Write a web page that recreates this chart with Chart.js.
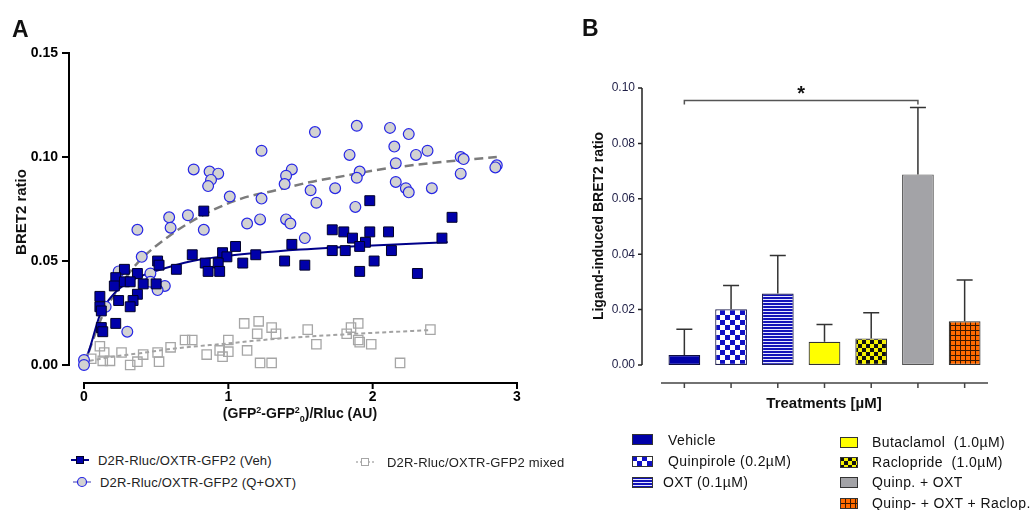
<!DOCTYPE html>
<html>
<head>
<meta charset="utf-8">
<script src="https://cdn.jsdelivr.net/npm/chart.js@4.4.1/dist/chart.umd.min.js"></script>
<style>
  body { margin: 0; background: #fff; width: 1033px; height: 510px; position: relative; overflow: hidden;
         font-family: "Liberation Sans", Arial, sans-serif; color: #111; }
  canvas.chart { position: absolute; top: 0; }
  .t { position: absolute; white-space: pre; line-height: 1; }
  .c { transform: translate(-50%, -50%); }
  .rot { transform: translate(-50%, -50%) rotate(-90deg); }
  .panel { font-weight: bold; font-size: 23px; }
  .legA { font-size: 13px; color: #222; letter-spacing: 0.2px; }
  .legB { font-size: 14px; color: #111; letter-spacing: 0.4px; }
  .mk { position: absolute; }
</style>
</head>
<body>
<canvas id="chartA" class="chart" width="560" height="440" style="left:0"></canvas>
<canvas id="chartB" class="chart" width="463" height="440" style="left:570px"></canvas>

<div class="t panel" style="left:12px;top:18px">A</div>
<div class="t panel" style="left:582px;top:17px">B</div>

<div class="t rot" style="left:20px;top:212px;font-weight:bold;font-size:15px">BRET2 ratio</div>
<div class="t c" style="left:300px;top:415px;font-weight:bold;font-size:14px">(GFP<sup style="font-size:9px">2</sup>-GFP<sup style="font-size:9px">2</sup><sub style="font-size:9px">0</sub>)/Rluc (AU)</div>

<div class="t rot" style="left:598px;top:226px;font-weight:bold;font-size:14px">Ligand-induced BRET2 ratio</div>
<div class="t c" style="left:824px;top:402px;font-weight:bold;font-size:15px">Treatments [µM]</div>

<!-- legend A -->
<canvas class="mk" id="mkVeh" width="20" height="14" style="left:70px;top:453px"></canvas>
<div class="t legA" style="left:98px;top:454px">D2R-Rluc/OXTR-GFP2 (Veh)</div>
<canvas class="mk" id="mkQ" width="20" height="14" style="left:72px;top:475px"></canvas>
<div class="t legA" style="left:100px;top:476px">D2R-Rluc/OXTR-GFP2 (Q+OXT)</div>
<canvas class="mk" id="mkMix" width="20" height="14" style="left:355px;top:455px"></canvas>
<div class="t legA" style="left:387px;top:456px">D2R-Rluc/OXTR-GFP2 mixed</div>

<!-- legend B -->
<canvas class="mk" id="sw0" width="21" height="11" style="left:632px;top:434px"></canvas>
<div class="t legB" style="left:668px;top:433px">Vehicle</div>
<canvas class="mk" id="sw1" width="21" height="11" style="left:632px;top:456px"></canvas>
<div class="t legB" style="left:668px;top:454px">Quinpirole (0.2µM)</div>
<canvas class="mk" id="sw2" width="21" height="11" style="left:632px;top:477px"></canvas>
<div class="t legB" style="left:663px;top:475px">OXT (0.1µM)</div>
<canvas class="mk" id="sw3" width="18" height="11" style="left:840px;top:437px"></canvas>
<div class="t legB" style="left:872px;top:435px">Butaclamol  (1.0µM)</div>
<canvas class="mk" id="sw4" width="18" height="11" style="left:840px;top:457px"></canvas>
<div class="t legB" style="left:872px;top:455px">Raclopride  (1.0µM)</div>
<canvas class="mk" id="sw5" width="18" height="11" style="left:840px;top:477px"></canvas>
<div class="t legB" style="left:872px;top:475px">Quinp. + OXT</div>
<canvas class="mk" id="sw6" width="18" height="11" style="left:840px;top:498px"></canvas>
<div class="t legB" style="left:872px;top:496px">Quinp- + OXT + Raclop.</div>

<script>
// ---- panel A: saturation data ----
const vehX = [0.83, 1.98, 2.55, 1.72, 1.80, 2.11, 1.98, 1.86, 2.48, 1.95, 1.91, 1.72, 1.81, 2.13, 1.05, 1.44,
  0.75, 0.96, 0.99, 1.19, 1.39, 1.53, 1.10, 2.01, 1.91, 2.31, 0.84, 0.86, 0.93, 0.94, 0.64, 0.51, 0.52,
  0.28, 0.37, 0.22, 0.28, 0.32, 0.41, 0.21, 0.50, 0.37, 0.34, 0.24, 0.32, 0.11, 0.11, 0.12, 0.22, 0.12, 0.13];
const vehY = [0.074, 0.079, 0.071, 0.065, 0.064, 0.064, 0.064, 0.061, 0.061, 0.059, 0.057, 0.055, 0.055, 0.055, 0.057, 0.058,
  0.053, 0.054, 0.052, 0.053, 0.050, 0.048, 0.049, 0.050, 0.045, 0.044, 0.049, 0.045, 0.049, 0.045, 0.046, 0.050, 0.048,
  0.046, 0.044, 0.042, 0.040, 0.040, 0.039, 0.038, 0.039, 0.034, 0.031, 0.031, 0.028, 0.033, 0.028, 0.026, 0.020, 0.018, 0.016];

const qoxtX = [1.89, 2.12, 1.60, 2.25, 1.23, 2.15, 2.38, 2.30, 1.84, 2.61, 2.63, 2.16, 2.86, 2.85, 1.91, 1.89, 2.61,
  0.76, 0.87, 0.93, 0.88, 0.86, 1.44, 1.40, 1.39, 2.16, 2.23, 2.25, 2.41, 1.74, 1.57, 1.01, 1.23, 1.61, 1.88,
  0.59, 0.72, 1.22, 1.40, 1.43, 1.13, 0.83, 0.60, 0.37, 1.53, 0.40, 0.24, 0.46, 0.46, 0.56, 0.51, 0.15, 0.30, 0.0, 0.0];
const qoxtY = [0.115, 0.114, 0.112, 0.111, 0.103, 0.105, 0.103, 0.101, 0.101, 0.100, 0.099, 0.097, 0.096, 0.095, 0.093, 0.090, 0.092,
  0.094, 0.093, 0.092, 0.089, 0.086, 0.094, 0.091, 0.087, 0.088, 0.085, 0.083, 0.085, 0.085, 0.084, 0.081, 0.080, 0.078, 0.076,
  0.071, 0.072, 0.070, 0.070, 0.068, 0.068, 0.065, 0.066, 0.065, 0.061, 0.052, 0.045, 0.044, 0.040, 0.038, 0.036, 0.028, 0.016, 0.0024, 0.0];

const mixX = [1.11, 1.21, 1.30, 1.20, 1.33, 1.55, 1.90, 1.85, 1.82, 2.40, 1.90, 1.91, 1.99, 1.61, 1.00, 0.70, 0.75,
  0.60, 1.13, 0.94, 1.00, 0.85, 0.96, 0.51, 0.41, 0.26, 0.11, 0.14, 0.05, 0.13, 0.18, 0.37, 0.32, 0.52, 1.22, 1.30, 2.19];
const mixY = [0.020, 0.021, 0.018, 0.015, 0.015, 0.017, 0.020, 0.018, 0.015, 0.017, 0.012, 0.011, 0.010, 0.010, 0.012, 0.012, 0.012,
  0.0085, 0.007, 0.007, 0.0064, 0.005, 0.004, 0.006, 0.005, 0.006, 0.009, 0.006, 0.003, 0.002, 0.002, 0.0016, 0.0, 0.0016, 0.001, 0.001, 0.001];

// fitted curves
const vehFitX = [0, 0.04, 0.11, 0.18, 0.25, 0.37, 0.49, 0.75, 1.0, 1.5, 2.0, 2.52];
const vehFitY = [0, 0.008, 0.024, 0.032, 0.037, 0.042, 0.045, 0.050, 0.0525, 0.0555, 0.0575, 0.059];
const qoxtFitX = [0, 0.13, 0.25, 0.37, 0.61, 0.85, 1.09, 1.33, 1.57, 1.81, 2.05, 2.4, 2.86];
const qoxtFitY = [0, 0.024, 0.038, 0.049, 0.063, 0.073, 0.080, 0.084, 0.088, 0.091, 0.094, 0.097, 0.100];
const mixFitX = [0.04, 0.2, 0.37, 0.61, 1.0, 1.33, 1.8, 2.4];
const mixFitY = [0.002, 0.004, 0.0055, 0.0078, 0.0104, 0.0126, 0.0147, 0.0168];

const xTicksA = [0, 1, 2, 3];
const yTicksA = [0, 0.05, 0.10, 0.15];

// ---- panel B: ligand-induced BRET ----
const treatments = ['Vehicle', 'Quinpirole (0.2µM)', 'OXT (0.1µM)', 'Butaclamol (1.0µM)',
  'Raclopride (1.0µM)', 'Quinp. + OXT', 'Quinp- + OXT + Raclop.'];
const bretMean = [0.0036, 0.0201, 0.0258, 0.0084, 0.0096, 0.0688, 0.0158];
const bretSem = [0.0093, 0.0086, 0.0137, 0.0062, 0.0093, 0.0242, 0.0149];
const yTicksB = [0, 0.02, 0.04, 0.06, 0.08, 0.10];
const sigPair = [0, 5];     // Vehicle vs Quinp. + OXT
const sigLevel = 0.0955;

const toXY = (xs, ys) => xs.map((x, i) => ({ x, y: ys[i] }));

// patterns for the bar fills
function makePattern(kind) {
  const c = document.createElement('canvas');
  let g;
  if (kind === 'blueCheck') {
    c.width = c.height = 10; g = c.getContext('2d');
    g.fillStyle = '#fff'; g.fillRect(0, 0, 10, 10);
    g.fillStyle = '#1010c4'; g.fillRect(0, 0, 5, 5); g.fillRect(5, 5, 5, 5);
  } else if (kind === 'blueStripe') {
    c.width = 4; c.height = 3; g = c.getContext('2d');
    g.fillStyle = '#1212b8'; g.fillRect(0, 0, 4, 3);
    g.fillStyle = '#e8e8ff'; g.fillRect(0, 2, 4, 1);
  } else if (kind === 'yellowCheck') {
    c.width = c.height = 8; g = c.getContext('2d');
    g.fillStyle = '#f4f000'; g.fillRect(0, 0, 8, 8);
    g.fillStyle = '#111'; g.fillRect(0, 0, 4, 4); g.fillRect(4, 4, 4, 4);
  } else if (kind === 'orangeGrid') {
    c.width = c.height = 5; g = c.getContext('2d');
    g.fillStyle = '#ff6a00'; g.fillRect(0, 0, 5, 5);
    g.fillStyle = '#3a1800'; g.fillRect(0, 0, 5, 1); g.fillRect(0, 0, 1, 5);
  }
  return g.createPattern(c, 'repeat');
}

const barFills = ['#0000a8', makePattern('blueCheck'), makePattern('blueStripe'), '#ffff00',
  makePattern('yellowCheck'), '#a3a3a7', makePattern('orangeGrid')];
const barBorders = ['#101040', '#202050', '#202050', '#333', '#333', '#555', '#333'];

// axis lines drawn off the plot edge like in the original figure
const axesA = {
  id: 'axesA',
  beforeDatasetsDraw(chart) {
    const { ctx, scales: { x, y } } = chart;
    const ax = x.getPixelForValue(0) - 15;
    const ay = y.getPixelForValue(0) + 18;
    ctx.save();
    ctx.strokeStyle = '#000';
    ctx.lineWidth = 2;
    ctx.beginPath();
    ctx.moveTo(ax, y.getPixelForValue(yTicksA[yTicksA.length - 1]) - 1);
    ctx.lineTo(ax, y.getPixelForValue(0) + 1);
    yTicksA.forEach(v => { const p = y.getPixelForValue(v); ctx.moveTo(ax - 7, p); ctx.lineTo(ax, p); });
    ctx.moveTo(x.getPixelForValue(0) - 1, ay);
    ctx.lineTo(x.getPixelForValue(xTicksA[xTicksA.length - 1]) + 1, ay);
    xTicksA.forEach(v => { const p = x.getPixelForValue(v); ctx.moveTo(p, ay); ctx.lineTo(p, ay + 6); });
    ctx.stroke();
    ctx.restore();
  }
};

const axesB = {
  id: 'axesB',
  beforeDatasetsDraw(chart) {
    const { ctx, chartArea, scales: { x, y } } = chart;
    const ax = chartArea.left - 19;
    const ay = y.getPixelForValue(0) + 18;
    ctx.save();
    ctx.strokeStyle = '#222';
    ctx.lineWidth = 1.5;
    ctx.beginPath();
    ctx.moveTo(ax, y.getPixelForValue(yTicksB[yTicksB.length - 1]));
    ctx.lineTo(ax, y.getPixelForValue(0));
    yTicksB.forEach(v => { const p = y.getPixelForValue(v); ctx.moveTo(ax - 4, p); ctx.lineTo(ax, p); });
    ctx.stroke();
    ctx.strokeStyle = '#444';
    ctx.beginPath();
    ctx.moveTo(chartArea.left, ay); ctx.lineTo(chartArea.right, ay);
    treatments.forEach((_, i) => { const p = x.getPixelForValue(i); ctx.moveTo(p, ay); ctx.lineTo(p, ay + 5); });
    ctx.stroke();
    ctx.restore();
  },
  afterDatasetsDraw(chart) {
    const { ctx, scales: { x, y } } = chart;
    const bars = chart.getDatasetMeta(0).data;
    ctx.save();
    ctx.strokeStyle = '#333';
    ctx.lineWidth = 1.5;
    ctx.beginPath();
    bars.forEach((bar, i) => {
      const top = y.getPixelForValue(bretMean[i] + bretSem[i]);
      ctx.moveTo(bar.x, bar.y); ctx.lineTo(bar.x, top);
      ctx.moveTo(bar.x - 8, top); ctx.lineTo(bar.x + 8, top);
    });
    ctx.stroke();
    // significance bracket
    const x0 = x.getPixelForValue(sigPair[0]), x1 = x.getPixelForValue(sigPair[1]);
    const sy = Math.round(y.getPixelForValue(sigLevel)) + 0.5;
    ctx.strokeStyle = '#555';
    ctx.lineWidth = 1.5;
    ctx.beginPath();
    ctx.moveTo(x0, sy + 4); ctx.lineTo(x0, sy); ctx.lineTo(x1, sy); ctx.lineTo(x1, sy + 4);
    ctx.stroke();
    ctx.fillStyle = '#111';
    ctx.font = 'bold 20px "Liberation Sans", Arial, sans-serif';
    ctx.textAlign = 'center';
    ctx.textBaseline = 'alphabetic';
    ctx.fillText('*', (x0 + x1) / 2, sy - 1);
    ctx.restore();
  }
};

const fontA = { family: '"Liberation Sans", Arial, sans-serif', size: 14, weight: 'bold' };

new Chart(document.getElementById('chartA'), {
  type: 'scatter',
  data: {
    datasets: [
      { data: toXY(vehX, vehY), pointStyle: 'rect', pointRadius: 7, backgroundColor: '#0000aa',
        borderColor: '#000028', borderWidth: 1, clip: false },
      { data: toXY(qoxtX, qoxtY), pointStyle: 'circle', pointRadius: 5.4, backgroundColor: '#d2d2d2',
        borderColor: '#2626e6', borderWidth: 1.2, clip: false },
      { data: toXY(mixX, mixY), pointStyle: 'rect', pointRadius: 6.6, backgroundColor: 'rgba(255,255,255,0)',
        borderColor: '#a6a6a6', borderWidth: 1.3, clip: false },
      { data: toXY(vehFitX, vehFitY), showLine: true, pointRadius: 0, borderColor: '#00008a', borderWidth: 2,
        cubicInterpolationMode: 'monotone', clip: false },
      { data: toXY(qoxtFitX, qoxtFitY), showLine: true, pointRadius: 0, borderColor: '#7c7c7c', borderWidth: 2.5,
        borderDash: [9, 5], cubicInterpolationMode: 'monotone', clip: false },
      { data: toXY(mixFitX, mixFitY), showLine: true, pointRadius: 0, borderColor: '#a2a2a2', borderWidth: 2,
        borderDash: [4, 3], cubicInterpolationMode: 'monotone', clip: false }
    ]
  },
  options: {
    responsive: false,
    animation: false,
    events: [],
    layout: { padding: { top: 53, right: 43, left: 0, bottom: 0 } },
    plugins: { legend: { display: false }, tooltip: { enabled: false } },
    scales: {
      x: {
        type: 'linear', min: 0, max: 3,
        afterBuildTicks: s => { s.ticks = xTicksA.map(v => ({ value: v })); },
        afterFit: s => { s.height = 75; },
        grid: { display: false, drawTicks: false }, border: { display: false },
        ticks: { font: fontA, color: '#000', padding: 24 }
      },
      y: {
        min: 0, max: 0.15,
        afterBuildTicks: s => { s.ticks = yTicksA.map(v => ({ value: v })); },
        afterFit: s => { s.width = 84; },
        grid: { display: false, drawTicks: false }, border: { display: false },
        ticks: { font: fontA, color: '#000', padding: 26, callback: v => v.toFixed(2) }
      }
    }
  },
  plugins: [axesA]
});

new Chart(document.getElementById('chartB'), {
  type: 'bar',
  data: {
    labels: treatments,
    datasets: [{
      data: bretMean,
      backgroundColor: barFills,
      borderColor: barBorders,
      borderWidth: 1.2,
      borderSkipped: false,
      barPercentage: 0.68,
      categoryPercentage: 1
    }]
  },
  options: {
    responsive: false,
    animation: false,
    events: [],
    layout: { padding: { top: 88, right: 45, left: 0, bottom: 0 } },
    plugins: { legend: { display: false }, tooltip: { enabled: false } },
    scales: {
      x: {
        afterFit: s => { s.height = 75; },
        grid: { display: false, drawTicks: false }, border: { display: false },
        ticks: { display: false }
      },
      y: {
        min: 0, max: 0.10,
        afterBuildTicks: s => { s.ticks = yTicksB.map(v => ({ value: v })); },
        afterFit: s => { s.width = 91; },
        grid: { display: false, drawTicks: false }, border: { display: false },
        ticks: { font: { family: '"Liberation Sans", Arial, sans-serif', size: 12 }, color: '#1e1e46',
                 padding: 26, callback: v => v.toFixed(2) }
      }
    }
  },
  plugins: [axesB]
});

// legend markers
function mk(id) { const c = document.getElementById(id); return [c.getContext('2d'), c.width, c.height]; }
(function () {
  let [g, w, h] = mk('mkVeh');
  g.strokeStyle = '#00008a'; g.lineWidth = 2;
  g.beginPath(); g.moveTo(1, h / 2); g.lineTo(w - 1, h / 2); g.stroke();
  g.fillStyle = '#0000aa'; g.fillRect(w / 2 - 4, h / 2 - 4, 8, 8);
  g.strokeStyle = '#000028'; g.lineWidth = 1; g.strokeRect(w / 2 - 3.5, h / 2 - 3.5, 7, 7);

  [g, w, h] = mk('mkQ');
  g.strokeStyle = '#7c7ccc'; g.lineWidth = 1.5;
  g.beginPath(); g.moveTo(1, h / 2); g.lineTo(w - 1, h / 2); g.stroke();
  g.beginPath(); g.arc(w / 2, h / 2, 4.5, 0, Math.PI * 2);
  g.fillStyle = '#d2d2d2'; g.fill(); g.strokeStyle = '#2626e6'; g.lineWidth = 1.2; g.stroke();

  [g, w, h] = mk('mkMix');
  g.strokeStyle = '#b0b0b0'; g.lineWidth = 1.5; g.setLineDash([2, 2]);
  g.beginPath(); g.moveTo(1, h / 2); g.lineTo(w - 1, h / 2); g.stroke();
  g.setLineDash([]); g.fillStyle = '#fff'; g.fillRect(w / 2 - 4, h / 2 - 4, 8, 8);
  g.strokeStyle = '#a6a6a6'; g.lineWidth = 1; g.strokeRect(w / 2 - 3.5, h / 2 - 3.5, 7, 7);

  barFills.forEach((fill, i) => {
    const [s, sw, sh] = mk('sw' + i);
    s.fillStyle = fill; s.fillRect(0, 0, sw, sh);
    s.strokeStyle = '#333'; s.lineWidth = 1; s.strokeRect(0.5, 0.5, sw - 1, sh - 1);
  });
})();
</script>
</body>
</html>
